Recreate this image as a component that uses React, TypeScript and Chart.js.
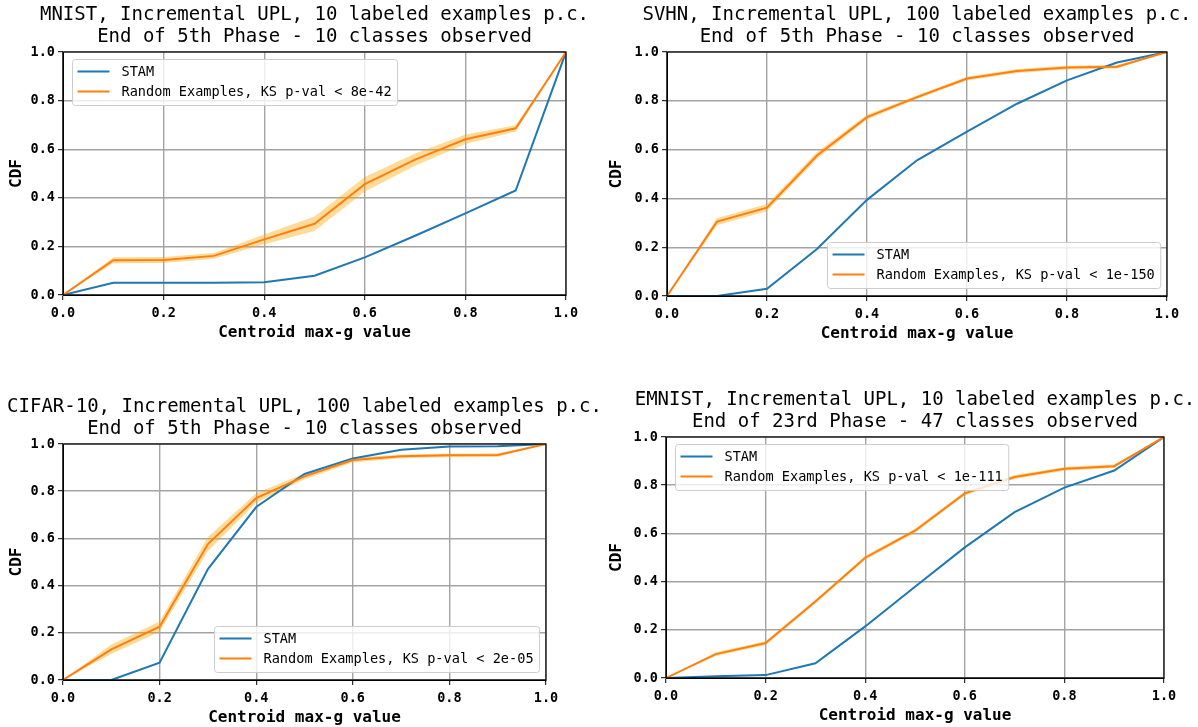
import React, { useEffect, useRef } from "react";
import { Chart, registerables } from "chart.js";

Chart.register(...registerables);

// ---------- data ----------
const xValues = [0, 0.1, 0.2, 0.3, 0.4, 0.5, 0.6, 0.7, 0.8, 0.9, 1.0];
const tickValues = [0, 0.2, 0.4, 0.6, 0.8, 1.0];

const mnistStam = [0, 0.05, 0.05, 0.05, 0.052, 0.079, 0.155, 0.244, 0.336, 0.43, 1.0];
const mnistRandom = [0, 0.143, 0.144, 0.161, 0.229, 0.293, 0.456, 0.557, 0.641, 0.686, 1.0];
const mnistRandomStd = [0, 0.012, 0.012, 0.012, 0.02, 0.03, 0.03, 0.025, 0.02, 0.013, 0];

const svhnStam = [0, 0.0, 0.03, 0.193, 0.394, 0.556, 0.674, 0.788, 0.884, 0.957, 1.0];
const svhnRandom = [0, 0.305, 0.362, 0.576, 0.733, 0.815, 0.891, 0.922, 0.936, 0.94, 1.0];
const svhnRandomStd = [0, 0.015, 0.015, 0.014, 0.01, 0.008, 0.008, 0.008, 0.008, 0.008, 0];

const cifarStam = [0, 0.0, 0.073, 0.47, 0.733, 0.873, 0.939, 0.976, 0.989, 0.99, 1.0];
const cifarRandom = [0, 0.13, 0.226, 0.576, 0.771, 0.863, 0.932, 0.948, 0.952, 0.953, 1.0];
const cifarRandomStd = [0, 0.02, 0.022, 0.03, 0.02, 0.012, 0.01, 0.008, 0.008, 0.008, 0];

const emnistStam = [0, 0.007, 0.012, 0.061, 0.214, 0.379, 0.542, 0.688, 0.79, 0.861, 1.0];
const emnistRandom = [0, 0.099, 0.145, 0.317, 0.499, 0.611, 0.766, 0.834, 0.868, 0.879, 1.0];
const emnistRandomStd = [0, 0.008, 0.008, 0.008, 0.008, 0.008, 0.008, 0.008, 0.008, 0.008, 0];

const stamLabel = "STAM";
const xAxisLabel = "Centroid max-g value";
const yAxisLabel = "CDF";

// ---------- style ----------
const FONT = '"DejaVu Sans Mono", "Liberation Mono", monospace';
const BLUE = "#1f77b4";
const ORANGE = "#ff7f0e";
const BAND = "rgba(255,165,0,0.4)";
const GRID = "#a4a4a4";
const X_AXIS_H = 49;

type Rect = { x: number; y: number; w: number; h: number };
type Area = { l: number; t: number; r: number; b: number };

type PanelDef = {
  titleLines: string[];
  stam: number[];
  random: number[];
  std: number[];
  randomLabel: string;
  loc: "upper left" | "lower right";
  canvas: Rect;
  area: Area;
};

const panels: PanelDef[] = [
  {
    titleLines: ["MNIST, Incremental UPL, 10 labeled examples p.c.", "End of 5th Phase - 10 classes observed"],
    stam: mnistStam,
    random: mnistRandom,
    std: mnistRandomStd,
    randomLabel: "Random Examples, KS p-val < 8e-42",
    loc: "upper left",
    canvas: { x: 0, y: 0, w: 600, h: 363 },
    area: { l: 63, t: 52, r: 566, b: 295 },
  },
  {
    titleLines: ["SVHN, Incremental UPL, 100 labeled examples p.c.", "End of 5th Phase - 10 classes observed"],
    stam: svhnStam,
    random: svhnRandom,
    std: svhnRandomStd,
    randomLabel: "Random Examples, KS p-val < 1e-150",
    loc: "lower right",
    canvas: { x: 600, y: 0, w: 598, h: 363 },
    area: { l: 667, t: 52, r: 1167, b: 296 },
  },
  {
    titleLines: ["CIFAR-10, Incremental UPL, 100 labeled examples p.c.", "End of 5th Phase - 10 classes observed"],
    stam: cifarStam,
    random: cifarRandom,
    std: cifarRandomStd,
    randomLabel: "Random Examples, KS p-val < 2e-05",
    loc: "lower right",
    canvas: { x: 0, y: 363, w: 600, h: 364 },
    area: { l: 63, t: 444, r: 546, b: 680 },
  },
  {
    titleLines: ["EMNIST, Incremental UPL, 10 labeled examples p.c.", "End of 23rd Phase - 47 classes observed"],
    stam: emnistStam,
    random: emnistRandom,
    std: emnistRandomStd,
    randomLabel: "Random Examples, KS p-val < 1e-111",
    loc: "upper left",
    canvas: { x: 600, y: 363, w: 598, h: 364 },
    area: { l: 666, t: 437, r: 1164, b: 678 },
  },
];

// ---------- plugins ----------
const framePlugin = {
  id: "frameBox",
  afterDatasetsDraw(chart: any) {
    const { ctx, chartArea } = chart;
    ctx.save();
    ctx.strokeStyle = "#000";
    ctx.lineWidth = 1.2;
    ctx.strokeRect(chartArea.left, chartArea.top, chartArea.right - chartArea.left, chartArea.bottom - chartArea.top);
    ctx.restore();
  },
};

const titlePlugin = {
  id: "panelTitle",
  afterDraw(chart: any, _args: any, opts: any) {
    const { ctx, chartArea } = chart;
    const lines: string[] = opts.lines || [];
    ctx.save();
    ctx.font = `normal 19px ${FONT}`;
    ctx.fillStyle = "#000";
    ctx.textAlign = "center";
    ctx.textBaseline = "middle";
    const cx = (chartArea.left + chartArea.right) / 2;
    lines.forEach((ln, i) => {
      ctx.fillText(ln, cx, chartArea.top - 37 + i * 22);
    });
    ctx.restore();
  },
};

const legendPlugin = {
  id: "insideLegend",
  afterDraw(chart: any, _args: any, opts: any) {
    const { ctx, chartArea } = chart;
    const items: { label: string; color: string }[] = opts.items || [];
    ctx.save();
    ctx.font = `normal 13.6px ${FONT}`;
    const textW = Math.max(...items.map((it) => ctx.measureText(it.label).width));
    const w = 5 + 32 + 12 + textW + 6;
    const h = 46;
    let x: number, y: number;
    if (opts.loc === "upper left") {
      x = chartArea.left + 9;
      y = chartArea.top + 7;
    } else {
      x = chartArea.right - 7 - w;
      y = chartArea.bottom - 8 - h;
    }
    x = Math.round(x) + 0.5;
    y = Math.round(y) + 0.5;
    ctx.beginPath();
    if ((ctx as any).roundRect) (ctx as any).roundRect(x, y, w, h, 3);
    else ctx.rect(x, y, w, h);
    ctx.fillStyle = "rgba(255,255,255,0.8)";
    ctx.fill();
    ctx.strokeStyle = "#cccccc";
    ctx.lineWidth = 1;
    ctx.stroke();
    items.forEach((it, i) => {
      const cy = y + 12 + i * 20;
      ctx.beginPath();
      ctx.moveTo(x + 5, cy);
      ctx.lineTo(x + 37, cy);
      ctx.strokeStyle = it.color;
      ctx.lineWidth = 2;
      ctx.stroke();
      ctx.fillStyle = "#000";
      ctx.textAlign = "left";
      ctx.textBaseline = "middle";
      ctx.fillText(it.label, x + 49, cy + 0.5);
    });
    ctx.restore();
  },
};

function pts(ys: number[]) {
  return xValues.map((x, i) => ({ x, y: ys[i] }));
}

function Panel({ def }: { def: PanelDef }) {
  const ref = useRef<HTMLCanvasElement | null>(null);
  useEffect(() => {
    if (!ref.current) return;
    const { canvas: c, area: a } = def;
    const lower = def.random.map((v, i) => v - def.std[i]);
    const upper = def.random.map((v, i) => v + def.std[i]);
    const axisCommon = (isX: boolean) => ({
      type: "linear" as const,
      min: 0,
      max: 1,
      afterBuildTicks: (scale: any) => {
        scale.ticks = tickValues.map((v) => ({ value: v }));
      },
      afterFit: (scale: any) => {
        if (isX) {
          scale.height = X_AXIS_H;
          scale.paddingLeft = 0;
          scale.paddingRight = 0;
        } else {
          scale.width = a.l - c.x;
          scale.paddingTop = 0;
          scale.paddingBottom = 0;
        }
      },
      grid: {
        color: GRID,
        lineWidth: 1.4,
        drawTicks: true,
        tickLength: 5,
        tickColor: "#000",
        tickWidth: 1,
      },
      border: { display: true, color: "#000", width: 1 },
      ticks: {
        autoSkip: false,
        maxRotation: 0,
        padding: isX ? 5 : 3,
        color: "#000",
        font: { family: FONT, size: 13.5, weight: "bold" as const },
        callback: (v: any) => Number(v).toFixed(1),
      },
      title: {
        display: true,
        text: isX ? xAxisLabel : yAxisLabel,
        color: "#000",
        font: { family: FONT, size: 16, weight: "bold" as const, lineHeight: 1.2 },
        padding: isX ? { top: 0, bottom: 2 } : { top: 7, bottom: 0 },
      },
    });
    const chart = new Chart(ref.current, {
      type: "line",
      data: {
        datasets: [
          {
            label: def.randomLabel,
            data: pts(def.random),
            borderColor: ORANGE,
            borderWidth: 2,
            pointRadius: 0,
            fill: false,
            tension: 0,
          },
          {
            label: stamLabel,
            data: pts(def.stam),
            borderColor: BLUE,
            borderWidth: 2,
            pointRadius: 0,
            fill: false,
            tension: 0,
          },
          {
            label: "lower",
            data: pts(lower),
            borderWidth: 0,
            borderColor: "rgba(0,0,0,0)",
            pointRadius: 0,
            fill: false,
            tension: 0,
          },
          {
            label: "upper",
            data: pts(upper),
            borderWidth: 0,
            borderColor: "rgba(0,0,0,0)",
            backgroundColor: BAND,
            pointRadius: 0,
            fill: "-1",
            tension: 0,
          },
        ],
      },
      options: {
        animation: false,
        responsive: false,
        devicePixelRatio: 1,
        layout: {
          padding: {
            left: 0,
            top: a.t - c.y,
            right: c.x + c.w - a.r,
            bottom: c.y + c.h - a.b - X_AXIS_H,
          },
        },
        scales: {
          x: axisCommon(true),
          y: axisCommon(false),
        },
        plugins: {
          legend: { display: false },
          tooltip: { enabled: false },
          title: { display: false },
          panelTitle: { lines: def.titleLines },
          insideLegend: {
            loc: def.loc,
            items: [
              { label: stamLabel, color: BLUE },
              { label: def.randomLabel, color: ORANGE },
            ],
          },
        } as any,
      },
      plugins: [framePlugin, titlePlugin, legendPlugin],
    } as any);
    return () => chart.destroy();
  }, [def]);
  const { canvas: c } = def;
  return (
    <canvas
      ref={ref}
      width={c.w}
      height={c.h}
      style={{ position: "absolute", left: c.x, top: c.y, width: c.w, height: c.h }}
    />
  );
}

export default function App() {
  return (
    <div
      style={{
        position: "absolute",
        left: 0,
        top: 0,
        width: 1198,
        height: 727,
        background: "#fff",
        overflow: "hidden",
      }}
    >
      {panels.map((p, i) => (
        <Panel key={i} def={p} />
      ))}
    </div>
  );
}
